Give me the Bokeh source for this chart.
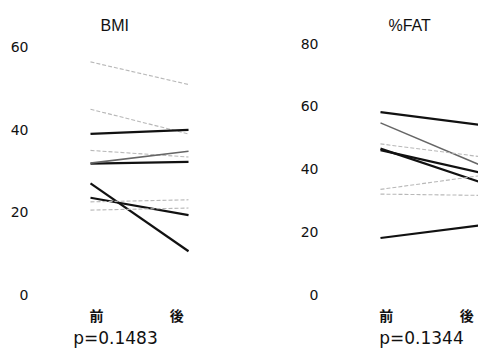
from bokeh.plotting import figure
from bokeh.layouts import row
from bokeh.models import FixedTicker, ColumnDataSource
from bokeh.embed import file_html
from bokeh.resources import INLINE

# ---- data ----
phases = ["前", "後"]
phase_pos = [0.06, 0.88]

bmi_before = [56.5, 45.0, 39.0, 35.0, 31.8, 31.9, 27.0, 23.5, 20.5, 22.5]
bmi_after = [51.0, 39.0, 40.0, 33.4, 32.2, 34.8, 10.5, 19.3, 21.0, 23.0]
bmi_style = ["light", "light", "bold", "light", "bold", "mid", "bold", "bold", "light", "light"]
bmi_ticks = [0, 20, 40, 60]
bmi_p = "p=0.1483"

fat_before = [58.1, 54.7, 48.0, 46.5, 46.0, 33.5, 32.0, 18.0]
fat_after = [54.1, 41.5, 44.0, 36.0, 39.0, 37.8, 31.6, 22.0]
fat_style = ["bold", "mid", "light", "bold", "bold", "light", "light", "bold"]
fat_ticks = [0, 20, 40, 60, 80]
fat_p = "p=0.1344"

STYLES = {
    "bold": dict(line_color="#111111", line_width=2.2, line_dash="solid"),
    "mid": dict(line_color="#666666", line_width=1.6, line_dash="solid"),
    "light": dict(line_color="#b8b8b8", line_width=1.1, line_dash="4 2"),
}


def panel(title, before, after, styles, ticks, ptext, width, x_range, y_range,
          border_left, border_right, ylab_standoff, title_offset):
    p = figure(width=width, height=351, x_range=x_range, y_range=y_range,
               output_backend="svg", toolbar_location=None, title=title,
               min_border_left=border_left, min_border_right=border_right,
               min_border_top=35, min_border_bottom=51)
    p.outline_line_color = None
    p.grid.visible = False
    p.background_fill_color = "white"
    p.border_fill_color = "white"

    for b, a, s in zip(before, after, styles):
        src = ColumnDataSource(dict(x=[0, 1], y=[b, a]))
        p.line("x", "y", source=src, **STYLES[s])

    p.title.align = "left"
    p.title.offset = title_offset
    p.title.standoff = 3
    p.title.text_font = "Liberation Sans"
    p.title.text_font_size = "16px"
    p.title.text_font_style = "normal"
    p.title.text_color = "#111111"

    ya = p.yaxis[0]
    ya.ticker = FixedTicker(ticks=ticks)
    ya.axis_line_color = None
    ya.major_tick_line_color = None
    ya.minor_tick_line_color = None
    ya.major_tick_out = 0
    ya.major_tick_in = 0
    ya.major_label_standoff = ylab_standoff
    ya.major_label_text_font = "DejaVu Sans"
    ya.major_label_text_font_size = "14px"
    ya.major_label_text_color = "#111111"

    xa = p.xaxis[0]
    xa.ticker = FixedTicker(ticks=phase_pos)
    xa.major_label_overrides = {phase_pos[0]: phases[0], phase_pos[1]: phases[1]}
    xa.axis_line_color = None
    xa.major_tick_line_color = None
    xa.minor_tick_line_color = None
    xa.major_tick_out = 0
    xa.major_tick_in = 0
    xa.major_label_standoff = 4
    xa.major_label_text_font = "Noto Sans CJK JP"
    xa.major_label_text_font_size = "14px"
    xa.major_label_text_font_style = "bold"
    xa.major_label_text_color = "#111111"
    xa.axis_label = ptext
    xa.axis_label_standoff = 0
    xa.axis_label_text_font = "DejaVu Sans"
    xa.axis_label_text_font_size = "17px"
    xa.axis_label_text_font_style = "normal"
    xa.axis_label_text_color = "#111111"
    return p


left = panel("BMI", bmi_before, bmi_after, bmi_style, bmi_ticks, bmi_p,
             240, (-0.551, 1.061), (-1.457, 62.91), 36, 46, 8, 64)
right = panel("%FAT", fat_before, fat_after, fat_style, fat_ticks, fat_p,
              238, (-0.163, 1.0), (-1.912, 82.55), 124, 0, 46, 24)

layout = row(left, right)
open("out.html", "w").write(file_html(layout, INLINE))
